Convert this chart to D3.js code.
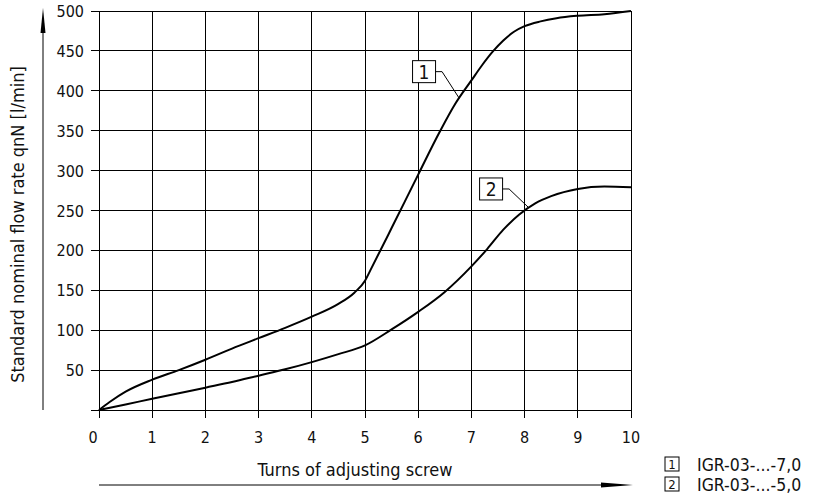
<!DOCTYPE html>
<html lang="en">
<head>
    <meta charset="UTF-8">
    <title>Flow rate vs turns</title>
    <script src="https://d3js.org/d3.v7.min.js"></script>
    <style>
        body { margin: 0; background: #fff; }
        svg text { font-family: "DejaVu Sans Condensed", "DejaVu Sans", sans-serif; font-stretch: condensed; fill: #111; }
    </style>
</head>
<body>
    <div id="chart-container"></div>

    <script>
        // Turns of adjusting screw and flow rate for each curve
        const turns1 = [0, 0.2, 0.5, 1, 1.5, 2, 2.5, 3, 3.5, 4, 4.5, 4.8, 5.0, 5.1, 5.5, 6.0, 6.4, 6.7, 7.0, 7.2, 7.4, 7.6, 7.8, 8.0, 8.3, 8.6, 9, 9.5, 10];
        const flow1  = [0, 10, 23, 38, 50, 63, 77, 90, 103, 117, 133, 147, 162, 175, 228, 295, 348, 384, 413, 432, 449, 463, 474, 481, 487, 491, 494, 496, 500];
        const turns2 = [0, 0.5, 1, 1.5, 2, 2.5, 3, 3.5, 4, 4.5, 5, 5.5, 6, 6.5, 7, 7.3, 7.6, 7.9, 8.2, 8.5, 9, 9.5, 10];
        const flow2  = [0, 7, 14, 21, 28, 35, 43, 51, 60, 70, 81, 101, 123, 148, 180, 202, 226, 245, 259, 268, 277, 280, 279];

        const xTicks = [0, 1, 2, 3, 4, 5, 6, 7, 8, 9, 10];
        const yTicks = [0, 50, 100, 150, 200, 250, 300, 350, 400, 450, 500];

        // Callouts: label, point on curve (turns), box centre (turns, flow)
        const callouts = [
            { label: "1", at: 6.77, turns: turns1, flow: flow1, bx: 6.11, by: 424 },
            { label: "2", at: 8.08, turns: turns2, flow: flow2, bx: 7.37, by: 277 }
        ];
        const legendKeys = ["1", "2"];
        const legendNames = ["IGR-03-...-7,0", "IGR-03-...-5,0"];

        const width = 813, height = 500;
        const margin = { top: 11, right: 182, bottom: 90, left: 99 };

        const svg = d3.select("#chart-container")
            .append("svg")
            .attr("width", width)
            .attr("height", height);

        const x = d3.scaleLinear().domain([0, 10]).range([margin.left, width - margin.right]);
        const y = d3.scaleLinear().domain([0, 500]).range([height - margin.bottom, margin.top]);

        // Grid with ticks sticking out left and below
        const grid = svg.append("g").attr("stroke", "#000").attr("stroke-width", 1).attr("shape-rendering", "crispEdges");
        grid.selectAll(".vx").data(xTicks).enter().append("line")
            .attr("x1", d => x(d)).attr("x2", d => x(d))
            .attr("y1", y(500)).attr("y2", y(0) + 8);
        grid.selectAll(".hy").data(yTicks).enter().append("line")
            .attr("x1", x(0) - 8).attr("x2", x(10))
            .attr("y1", d => y(d)).attr("y2", d => y(d));

        // Tick labels
        svg.selectAll(".xl").data(xTicks).enter().append("text")
            .attr("x", d => x(d) + (d === 0 ? -6 : 0))
            .attr("y", y(0) + 33)
            .attr("text-anchor", "middle")
            .attr("font-size", 16)
            .text(d => d);
        svg.selectAll(".yl").data(yTicks.filter(d => d > 0)).enter().append("text")
            .attr("x", x(0) - 15)
            .attr("y", d => y(d) + 6)
            .attr("text-anchor", "end")
            .attr("font-size", 16)
            .text(d => d);

        // Curves
        const line = d3.line().x(d => x(d[0])).y(d => y(d[1])).curve(d3.curveMonotoneX);
        [[turns1, flow1], [turns2, flow2]].forEach(([t, f]) => {
            svg.append("path")
                .attr("d", line(d3.zip(t, f)))
                .attr("fill", "none")
                .attr("stroke", "#000")
                .attr("stroke-width", 2);
        });

        // Callout boxes with leader lines
        callouts.forEach(c => {
            const i = d3.bisectLeft(c.turns, c.at);
            const k = (c.at - c.turns[i - 1]) / (c.turns[i] - c.turns[i - 1]);
            const v = c.flow[i - 1] + k * (c.flow[i] - c.flow[i - 1]);
            const cx = x(c.bx), cy = y(c.by);
            const g = svg.append("g");
            g.append("rect")
                .attr("x", cx - 11.5).attr("y", cy - 11)
                .attr("width", 23).attr("height", 22)
                .attr("fill", "#fff").attr("stroke", "#000").attr("stroke-width", 1);
            g.append("text")
                .attr("x", cx).attr("y", cy + 7)
                .attr("text-anchor", "middle").attr("font-size", 19)
                .text(c.label);
            g.append("polyline")
                .attr("points", [[cx + 11.5, cy], [cx + 18, cy], [x(c.at), y(v)]].map(p => p.join(",")).join(" "))
                .attr("fill", "none").attr("stroke", "#000").attr("stroke-width", 1);
        });

        // Axis arrows
        const ax = 43;
        svg.append("line").attr("x1", ax).attr("x2", ax).attr("y1", y(0)).attr("y2", y(500) + 10)
            .attr("stroke", "#000").attr("stroke-width", 1);
        svg.append("path")
            .attr("d", `M${ax},${y(500) - 3} L${ax + 2.5},${y(500) + 22} L${ax - 2.5},${y(500) + 22} Z`)
            .attr("fill", "#000");
        const ay = 485;
        svg.append("line").attr("x1", x(0)).attr("x2", x(10) - 10).attr("y1", ay).attr("y2", ay)
            .attr("stroke", "#000").attr("stroke-width", 1);
        svg.append("path")
            .attr("d", `M${x(10) + 2},${ay} L${x(10) - 30},${ay - 2.5} L${x(10) - 30},${ay + 2.5} Z`)
            .attr("fill", "#000");

        // Axis titles
        svg.append("text")
            .attr("x", (x(0) + x(10)) / 2 - 10)
            .attr("y", 476)
            .attr("text-anchor", "middle")
            .attr("font-size", 18)
            .text("Turns of adjusting screw");
        svg.append("text")
            .attr("transform", `translate(24,${(y(0) + y(500)) / 2 + 14}) rotate(-90)`)
            .attr("text-anchor", "middle")
            .attr("font-size", 18)
            .text("Standard nominal flow rate qnN [l/min]");

        // Legend
        const legend = svg.selectAll(".leg").data(legendKeys).enter().append("g")
            .attr("transform", (d, i) => `translate(665,${457 + i * 20})`);
        legend.append("rect")
            .attr("width", 14).attr("height", 14)
            .attr("fill", "#fff").attr("stroke", "#000").attr("stroke-width", 1);
        legend.append("text")
            .attr("x", 7).attr("y", 12)
            .attr("text-anchor", "middle").attr("font-size", 13)
            .text(d => d);
        legend.append("text")
            .attr("x", 32).attr("y", 13.5)
            .attr("font-size", 17.5)
            .text((d, i) => legendNames[i]);
    </script>
</body>
</html>
